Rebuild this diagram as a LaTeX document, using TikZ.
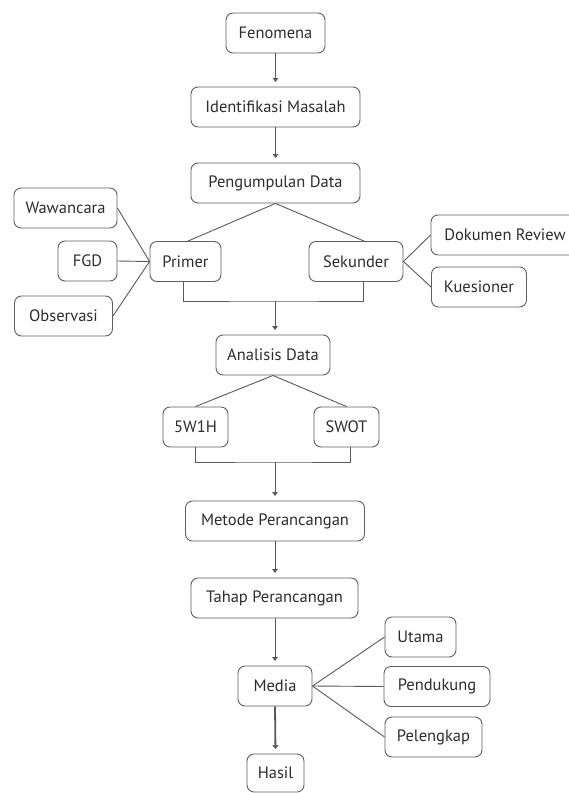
\documentclass[tikz,border=0pt]{standalone}
\usepackage{fontspec}
\setmainfont{PT Sans}
\usetikzlibrary{arrows.meta}
\definecolor{linec}{RGB}{90,90,90}
\definecolor{boxc}{RGB}{95,95,95}
\definecolor{textc}{RGB}{45,45,45}
\begin{document}
\begin{tikzpicture}[x=1pt,y=-1pt,
  box/.style={draw=boxc,line width=0.9pt,rounded corners=7pt,minimum height=40pt,inner sep=0pt,
    text=textc,font=\fontsize{16.5}{19}\selectfont},
  conn/.style={draw=linec,line width=0.9pt},
  arr/.style={conn,-{Triangle[length=4pt,width=5.5pt]},shorten >=4.5pt},
  thickarr/.style={draw=linec,line width=1.8pt,-{Triangle[length=4pt,width=6pt]},shorten >=4.5pt}]
\useasboundingbox (0,0) rectangle (568,793);
\fill[white] (0,0) rectangle (568,793);
% nodes
\node[box,minimum width=99pt] (fen) at (275.5,33) {Fenomena};
\node[box,minimum width=169pt] (ide) at (275.5,107) {Identifikasi Masalah};
\node[box,minimum width=169pt] (pen) at (275.5,183) {Pengumpulan Data};
\node[box,minimum width=103pt] (waw) at (65.5,208) {Wawancara};
\node[box,minimum width=59pt] (fgd) at (87.5,261) {FGD};
\node[box,minimum width=98pt] (obs) at (63.5,316) {Observasi};
\node[box,minimum width=71pt] (pri) at (185.5,261.5) {Primer};
\node[box,minimum width=94pt] (sek) at (356,261.5) {Sekunder};
\node[box,minimum width=148pt] (dok) at (505,235) {Dokumen Review};
\node[box,minimum width=95pt] (kue) at (479,287) {Kuesioner};
\node[box,minimum width=114pt] (ana) at (273,355) {Analisis Data};
\node[box,minimum width=65pt] (wh) at (195.5,427) {5W1H};
\node[box,minimum width=65pt] (swot) at (346.5,427) {SWOT};
\node[box,minimum width=179pt] (met) at (275,521) {Metode Perancangan};
\node[box,minimum width=167pt] (tah) at (274.5,598) {Tahap Perancangan};
\node[box,minimum width=74pt] (med) at (275,686) {Media};
\node[box,minimum width=57pt,minimum height=38pt] (has) at (275.5,773) {Hasil};
\node[box,minimum width=71pt] (uta) at (420.5,637) {Utama};
\node[box,minimum width=106pt] (pend) at (437,686.5) {Pendukung};
\node[box,minimum width=97pt] (pel) at (433.5,737) {Pelengkap};
\coordinate (b1) at (275,301);
\coordinate (b2) at (275,462);
% connectors
\draw[arr] (fen.south) -- (ide.north);
\draw[arr] (ide.south) -- (pen.north);
\draw[conn] (pen.south) -- ([xshift=2.5pt]pri.north);
\draw[conn] (pen.south) -- ([xshift=8pt]sek.north);
\draw[conn] (waw.east) -- (pri.west);
\draw[conn] (fgd.east) -- (pri.west);
\draw[conn] (obs.east) -- (pri.west);
\draw[conn] (sek.east) -- (dok.west);
\draw[conn] (sek.east) -- (kue.west);
\draw[conn] ([xshift=-2.5pt]pri.south) |- (b1) -| ([xshift=7pt]sek.south);
\draw[arr] (b1) -- (b1 |- ana.north);
\draw[conn] (ana.south) -- (wh.north);
\draw[conn] (ana.south) -- (swot.north);
\draw[conn] (wh.south) |- (b2) -| ([xshift=3.5pt]swot.south);
\draw[arr] (b2) -- (b2 |- met.north);
\draw[arr] (met.south) -- (met.south |- tah.north);
\draw[arr] (tah.south) -- (tah.south -| med.north) -- (med.north);
\draw[thickarr] (med.south) -- (has.north);
\draw[conn] (med.east) -- (uta.west);
\draw[conn] (med.east) -- (pend.west);
\draw[conn] (med.east) -- (pel.west);
\end{tikzpicture}
\end{document}
